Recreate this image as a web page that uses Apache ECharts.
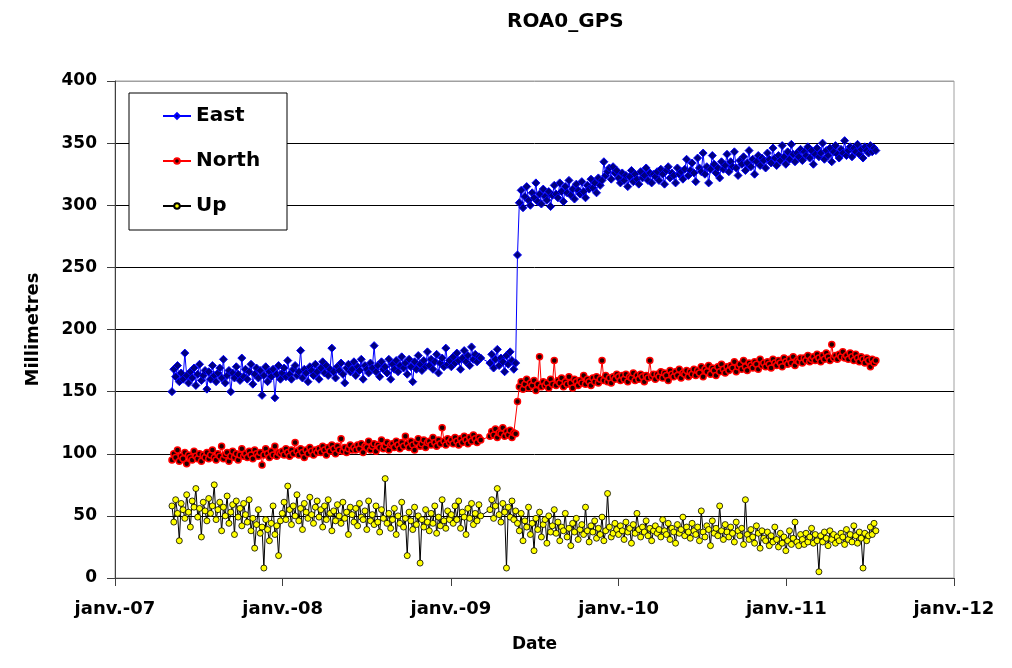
<!DOCTYPE html>
<html>
<head>
<meta charset="utf-8">
<script src="https://cdn.jsdelivr.net/npm/echarts@6/dist/echarts.min.js"></script>
<style>html,body{margin:0;padding:0;background:#fff}#c{width:1012px;height:668px}</style>
</head>
<body>
<div id="c"></div>
<script>
// Observation sampling: every 4 days starting 2007-05-05 (null = no data)
const startDate = '2007-05-05';
const stepDays = 4;
const xTickLabels = ['janv.-07', 'janv.-08', 'janv.-09', 'janv.-10', 'janv.-11', 'janv.-12'];
const yTicks = [0, 50, 100, 150, 200, 250, 300, 350, 400];

const east = [
150,168,162,171,158,165,160,181,163,157,166,161,169,155,164,172,159,163,167,152,
166,160,171,163,158,165,169,161,176,157,163,167,150,165,161,170,164,159,177,162,
168,160,166,172,156,164,169,161,167,147,163,170,158,166,162,168,145,164,171,160,
165,169,162,175,164,160,168,171,163,166,183,161,168,165,158,170,167,163,172,166,
160,169,174,165,171,163,168,185,166,161,170,167,173,164,157,169,172,166,168,174,
163,170,167,176,160,171,168,165,173,169,187,166,171,162,174,168,170,165,176,160,
172,168,175,166,171,178,169,173,164,176,170,158,174,168,179,172,167,175,170,182,
171,176,168,174,180,165,173,177,170,185,172,175,
170,178,173,181,175,168,177,183,174,179,171,186,176,180,174,178,177,
null,null,null,null,
173,180,169,176,184,171,177,174,166,179,172,182,175,168,173,
260,
302,312,298,307,315,304,300,310,306,318,303,309,301,313,307,304,311,299,308,316,
309,306,318,311,303,315,310,320,308,313,305,317,312,309,319,311,306,316,313,321,
314,318,310,322,316,320,335,324,327,330,321,331,326,328,
322,318,326,320,324,315,323,328,319,325,321,317,327,322,324,330,320,326,318,325,
323,327,320,329,325,317,328,331,322,326,324,318,330,325,327,321,329,337,324,328,
334,326,319,338,330,327,342,325,331,318,329,340,333,326,330,322,335,329,332,341,
327,335,331,343,330,324,336,333,339,328,334,344,331,337,325,335,340,332,338,336,
330,342,337,334,346,338,332,340,336,348,339,333,343,337,349,341,335,342,339,345,
336,343,340,347,338,344,333,341,346,339,342,350,337,344,340,346,335,343,348,341,
338,345,342,352,340,344,347,339,346,343,349,341,345,338,347,344,342,348,343,346,344
];

const north = [
95,100,97,103,94,98,96,101,92,99,97,95,102,98,96,100,94,99,97,101,
96,99,103,97,95,100,98,106,96,99,101,94,98,102,97,100,95,99,104,98,
100,97,102,99,96,103,100,98,101,91,99,104,100,97,102,99,106,98,101,100,
102,99,104,101,98,103,100,109,102,99,104,101,97,103,100,105,102,99,103,101,
104,101,106,103,99,105,102,107,104,100,106,103,112,102,105,101,104,107,103,105,
103,107,104,108,101,106,105,110,103,106,108,102,107,105,111,104,106,109,103,107,
108,105,110,107,104,109,106,114,108,105,110,107,103,109,112,106,108,111,105,109,
110,107,113,109,106,111,108,121,110,107,112,109,
111,108,113,110,107,112,109,114,111,108,113,110,115,112,109,113,111,
null,null,null,null,
114,118,115,120,113,117,116,121,114,118,115,119,113,117,116,
142,
154,158,152,156,160,153,157,155,159,151,156,178,154,158,155,157,153,160,156,175,
155,159,157,161,154,158,156,162,157,153,160,158,155,159,157,163,156,160,158,155,
161,158,162,157,160,175,159,163,158,161,157,162,160,164,
162,159,163,160,164,158,162,161,165,159,163,160,164,162,158,163,161,175,162,164,
160,164,162,166,161,165,163,159,167,164,162,166,163,168,161,165,164,167,162,166,
164,168,163,167,165,170,162,168,166,171,164,169,167,163,170,166,172,168,165,170,
167,171,169,174,166,170,172,168,175,170,167,173,171,169,174,172,168,176,171,173,
170,174,172,169,176,173,171,175,173,170,177,174,172,176,173,178,171,175,174,177,
173,177,175,179,174,176,178,175,180,177,174,179,176,181,178,175,188,177,179,176,
180,178,182,177,179,176,181,178,175,180,177,174,178,176,173,177,175,170,176,173,175
];

const up = [
58,45,63,52,30,60,55,48,67,53,41,62,57,72,49,56,33,61,54,46,
64,52,58,75,47,55,61,38,57,50,66,44,53,59,35,62,49,56,42,60,
51,45,63,38,48,24,43,55,36,41,8,47,39,30,44,58,35,42,18,46,
52,61,47,74,55,43,58,50,67,46,56,39,60,53,48,65,51,44,57,62,
49,55,41,58,47,63,52,38,54,46,59,50,44,61,48,53,35,57,51,45,
56,42,60,49,47,54,39,62,46,51,43,58,45,37,55,48,80,44,52,40,
47,56,35,50,44,61,41,48,18,53,46,39,57,43,50,12,47,41,55,45,
38,52,44,58,36,49,42,63,46,40,54,47,
51,44,58,47,62,40,53,49,35,56,48,60,43,52,46,59,50,
null,null,null,null,
55,63,48,58,72,51,45,60,53,8,57,49,62,47,54,
44,
38,52,30,46,41,57,35,44,22,48,39,53,33,43,47,28,50,37,42,55,
36,45,30,41,38,52,33,40,26,44,37,48,31,39,43,35,57,38,29,42,
37,46,32,40,35,49,30,38,68,41,33,36,44,39,
35,42,38,31,45,37,40,28,43,36,52,39,33,41,37,46,34,40,30,38,
42,36,39,33,47,38,35,44,31,40,37,28,43,36,39,49,34,41,37,32,
44,38,35,41,30,54,37,33,42,39,26,46,36,40,34,58,38,31,43,37,
33,41,36,29,45,38,34,40,27,63,35,31,39,33,28,42,36,24,38,32,
30,37,26,34,29,41,31,25,36,28,33,22,30,38,27,32,45,29,26,35,
31,27,36,29,33,40,28,35,30,5,34,29,37,32,26,38,31,35,28,33,
30,36,33,27,39,31,35,29,42,34,28,37,32,8,36,30,34,41,35,44,38
];

const FONT = 'DejaVu Sans';
const DAY = 86400000;
const t0 = new Date(startDate + 'T00:00:00').getTime();
function pairs(vals) {
  return vals.map((v, i) => [t0 + i * stepDays * DAY, v === null ? '-' : v]);
}
const xMin = new Date('2007-01-01T00:00:00').getTime();
const xMax = new Date('2012-01-01T00:00:00').getTime();

const chart = echarts.init(document.getElementById('c'), null, {renderer: 'canvas'});
chart.setOption({
  animation: false,
  backgroundColor: '#fff',
  title: {
    text: 'ROA0_GPS', left: 502, top: 7,
    textStyle: {fontFamily: FONT, fontWeight: 'bold', fontSize: 20, color: '#000'}
  },
  grid: {left: 115, right: 58, top: 81, bottom: 90, show: true, borderColor: '#a0a0a0', borderWidth: 1},
  graphic: [{
    type: 'rect', z: 3, shape: {x: 129, y: 93, width: 158, height: 137},
    style: {fill: '#fff', stroke: '#000', lineWidth: 1}
  }],
  legend: {
    orient: 'vertical', left: 162, top: 106, padding: 0, itemGap: 25,
    itemWidth: 28, itemHeight: 7, z: 5,
    textStyle: {fontFamily: FONT, fontWeight: 'bold', fontSize: 20, lineHeight: 20, color: '#000'},
    data: ['East', 'North', 'Up']
  },
  xAxis: {
    type: 'time', min: xMin, max: xMax,
    minInterval: 365 * DAY, maxInterval: 366 * DAY,
    name: 'Date', nameLocation: 'middle', nameGap: 58,
    nameTextStyle: {fontFamily: FONT, fontWeight: 'bold', fontSize: 17, color: '#000'},
    axisLine: {lineStyle: {color: '#404040', width: 1}},
    axisTick: {show: true, length: 8, lineStyle: {color: '#404040'}},
    minorTick: {show: false},
    splitLine: {show: false},
    axisLabel: {
      margin: 22, showMinLabel: true, showMaxLabel: true,
      fontFamily: FONT, fontWeight: 'bold', fontSize: 18, color: '#000',
      formatter: function (val) {
        const y = new Date(val).getFullYear();
        return xTickLabels[y - 2007] || '';
      }
    }
  },
  yAxis: {
    type: 'value', min: yTicks[0], max: yTicks[yTicks.length - 1], interval: 50,
    name: 'Millimetres', nameLocation: 'middle', nameGap: 73,
    nameTextStyle: {fontFamily: FONT, fontWeight: 'bold', fontSize: 18, color: '#000'},
    axisLine: {show: true, lineStyle: {color: '#404040', width: 1}},
    axisTick: {show: true, length: 8, lineStyle: {color: '#404040'}},
    splitLine: {show: true, lineStyle: {color: ['#000','#000','#000','#000','#000','#000','#000','#000','#a0a0a0'], width: 1}},
    axisLabel: {margin: 18, fontFamily: FONT, fontWeight: 'bold', fontSize: 17, color: '#000'}
  },
  series: [
    {
      name: 'East', type: 'line', data: pairs(east), connectNulls: true,
      showAllSymbol: true, symbol: 'diamond', symbolSize: 8,
      lineStyle: {color: '#0000FF', width: 1},
      itemStyle: {color: '#000080', borderColor: '#0000FF', borderWidth: 1},
      emphasis: {disabled: true}
    },
    {
      name: 'North', type: 'line', data: pairs(north), connectNulls: true,
      showAllSymbol: true, symbol: 'circle', symbolSize: 6,
      lineStyle: {color: '#FF0000', width: 1},
      itemStyle: {color: '#200000', borderColor: '#FF0000', borderWidth: 1.5},
      emphasis: {disabled: true}
    },
    {
      name: 'Up', type: 'line', data: pairs(up), connectNulls: true,
      showAllSymbol: true, symbol: 'circle', symbolSize: 6,
      lineStyle: {color: '#000000', width: 1},
      itemStyle: {color: '#FFFF00', borderColor: '#000000', borderWidth: 0.8},
      emphasis: {disabled: true}
    }
  ]
});
</script>
</body>
</html>
